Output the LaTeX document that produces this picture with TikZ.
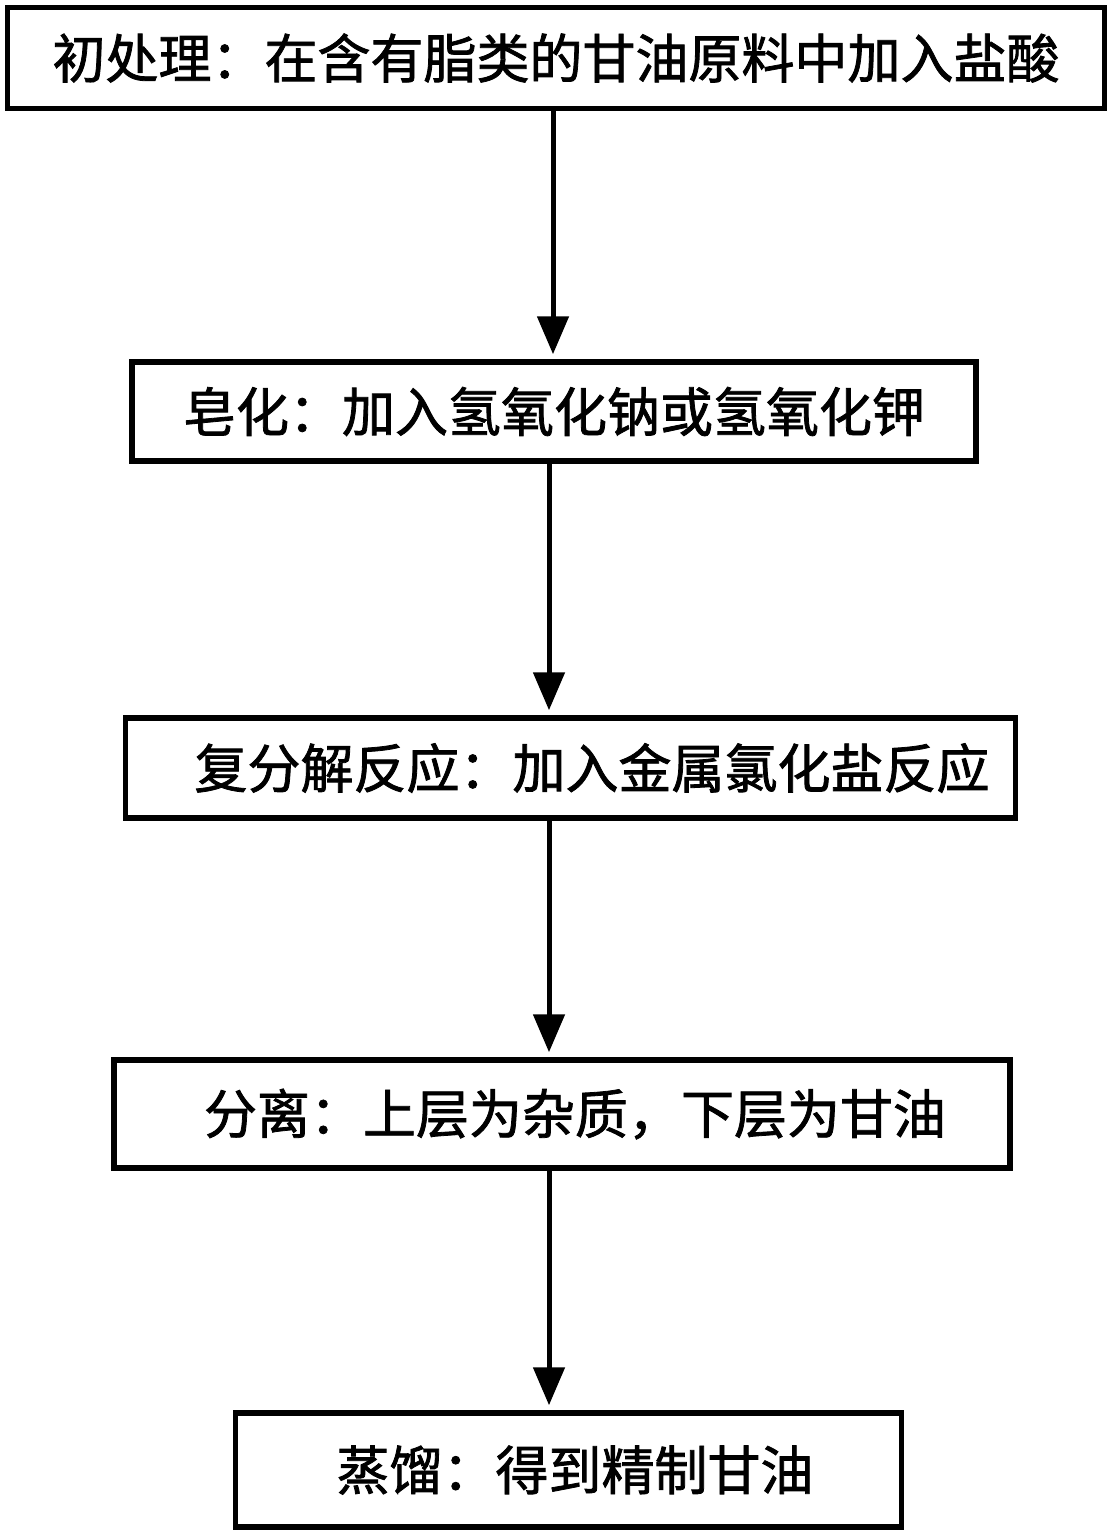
\documentclass[tikz,border=0pt]{standalone}
\usepackage{fontspec}
\newfontfamily\cjk{Noto Sans CJK SC}[FakeBold=1.5]
\usetikzlibrary{arrows.meta,positioning}

\begin{document}
\begin{tikzpicture}[x=1pt,y=-1pt,
	stepbox/.style={draw,line width=5.5pt,rectangle,inner sep=0pt,font=\cjk\fontsize{53}{60}\selectfont},
	flow/.style={line width=5pt,-{Triangle[length=38pt,width=31pt]},shorten >=5pt}]
	\useasboundingbox (0,0) rectangle (1112,1536);
	% steps
	\node[stepbox,minimum width=1097pt,minimum height=101pt] (chu) at (556,58) {初处理：在含有脂类的甘油原料中加入盐酸};
	\node[stepbox,minimum width=844pt,minimum height=99pt] (zao) at (554,411.5) {皂化：加入氢氧化钠或氢氧化钾};
	\node[stepbox,minimum width=890pt,minimum height=100pt] (fu) at (570.5,768) {\hspace*{43pt}复分解反应：加入金属氯化盐反应};
	\node[stepbox,minimum width=896pt,minimum height=108pt] (fen) at (562,1114) {\hspace*{26pt}分离：上层为杂质，下层为甘油};
	\node[stepbox,minimum width=666pt,minimum height=114pt] (zheng) at (568.5,1470) {\hspace*{13pt}蒸馏：得到精制甘油};
	% arrows
	\coordinate (axa) at (553,0);
	\coordinate (axb) at (549,0);
	\draw[flow] (chu.south -| axa) -- (zao.north -| axa);
	\draw[flow] (zao.south -| axb) -- (fu.north -| axb);
	\draw[flow] (fu.south -| axb) -- (fen.north -| axb);
	\draw[flow] (fen.south -| axb) -- (zheng.north -| axb);
\end{tikzpicture}
\end{document}
